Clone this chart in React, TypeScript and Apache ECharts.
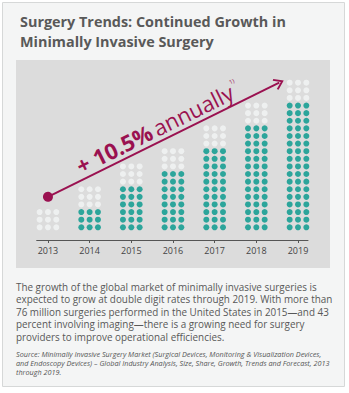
import React, { useEffect, useRef } from "react";
import * as echarts from "echarts";

const years = ["2013", "2014", "2015", "2016", "2017", "2018", "2019"];
const tealRows = [0, 3, 6, 8, 11, 14, 17];
const whiteRows = [3, 3, 3, 3, 3, 3, 3];
const dotsPerRow = 3;
const arrowStart = [0, 4];
const arrowEnd = [5.55, 19.0];

const titleLines = ["Surgery Trends: Continued Growth in", "Minimally Invasive Surgery"];
const bodyLines = [
  "The growth of the global market of minimally invasive surgeries is",
  "expected to grow at double digit rates through 2019. With more than",
  "76 million surgeries performed in the United States in 2015\u2014and 43",
  "percent involving imaging\u2014there is a growing need for surgery",
  "providers to improve operational efficiencies.",
];
const sourceLines = [
  "Source: Minimally Invasive Surgery Market (Surgical Devices, Monitoring & Visualization Devices,",
  "and Endoscopy Devices) \u2013 Global Industry Analysis, Size, Share, Growth, Trends and Forecast, 2013",
  "through 2019.",
];

const TEAL = "#00978b";
const WHITE = "#f3f5f5";
const MAROON = "#9a1150";
const FONT = "'Open Sans', sans-serif";

export default function App() {
  const ref = useRef<HTMLDivElement>(null);
  useEffect(() => {
    if (!ref.current) return;
    const chart = echarts.init(ref.current, undefined, { renderer: "svg" });
    const teal: number[][] = [];
    const white: number[][] = [];
    years.forEach((_, i) => {
      const total = tealRows[i] + whiteRows[i];
      for (let r = 0; r < total; r++) {
        for (let c = 0; c < dotsPerRow; c++) {
          const pt = [i + (c - (dotsPerRow - 1) / 2) * 0.2, r];
          (r < tealRows[i] ? teal : white).push(pt);
        }
      }
    });
    const chevron = "path://M0,0 L6,7.5 L4.6,8.6 L0,2.8 L-4.6,8.6 L-6,7.5 Z";
    chart.setOption({
      animation: false,
      backgroundColor: "#ffffff",
      graphic: [
        { type: "rect", z: -10, shape: { x: 2.5, y: 2.5, width: 342, height: 384 }, style: { fill: "#f4f5f5", stroke: "#d6d8d8", lineWidth: 1 } },
        { type: "rect", z: -9, shape: { x: 16, y: 60, width: 314, height: 208 }, style: { fill: "#dcdcdc" } },
        { type: "text", style: { x: 20, y: 11.5, text: titleLines.join("\n"), font: `700 14.4px ${FONT}`, fill: "#595959", lineHeight: 20, verticalAlign: "top" } },
        { type: "text", style: { x: 16, y: 280.5, text: bodyLines.join("\n"), font: `400 9.9px ${FONT}`, fill: "#585858", lineHeight: 12.5, verticalAlign: "top" } },
        { type: "text", style: { x: 16, y: 349.6, text: sourceLines.join("\n"), font: `italic 400 7.25px ${FONT}`, fill: "#555555", lineHeight: 8.8, verticalAlign: "top" } },
      ],
      grid: { left: 36.7, top: 70, width: 271.3, height: 170 },
      xAxis: {
        type: "value",
        min: -0.27,
        max: 6.24,
        splitLine: { show: false },
        axisLine: { show: true, onZero: false, lineStyle: { color: "#555", width: 1 } },
        axisTick: { show: true, length: 3, customValues: years.map((_, i) => i), lineStyle: { color: "#555" } },
        axisLabel: {
          customValues: years.map((_, i) => i),
          formatter: (v: number) => years[Math.round(v)] ?? "",
          color: "#444",
          fontFamily: FONT,
          fontSize: 9,
          margin: 6,
        },
      },
      yAxis: { type: "value", min: -1.67, max: 20.67, show: false, splitLine: { show: false } },
      series: [
        { type: "scatter", data: teal, symbolSize: 6, itemStyle: { color: TEAL } },
        {
          type: "scatter",
          data: white,
          symbolSize: 6,
          itemStyle: { color: WHITE },
          markLine: {
            silent: true,
            lineStyle: { color: MAROON, width: 2, type: "solid" },
            label: {
              show: true,
              position: "insideMiddleTop",
              distance: 3,
              formatter: "{b|+ 10.5%} {r|annually}{s|1)}",
              rich: {
                b: { fontFamily: FONT, fontWeight: 700, fontSize: 22, color: MAROON },
                r: { fontFamily: FONT, fontWeight: 400, fontSize: 22, color: MAROON },
                s: { fontFamily: FONT, fontWeight: 400, fontSize: 6, color: MAROON, verticalAlign: "top", padding: [0, 0, 16, 1] },
              },
            },
            data: [[
              { coord: arrowStart, symbol: "circle", symbolSize: 10 },
              { coord: arrowEnd, symbol: chevron, symbolSize: [12, 10] },
            ]],
          },
        },
      ],
    });
    return () => chart.dispose();
  }, []);
  return <div ref={ref} style={{ position: "absolute", left: 0, top: 0, width: 349, height: 393 }} />;
}
